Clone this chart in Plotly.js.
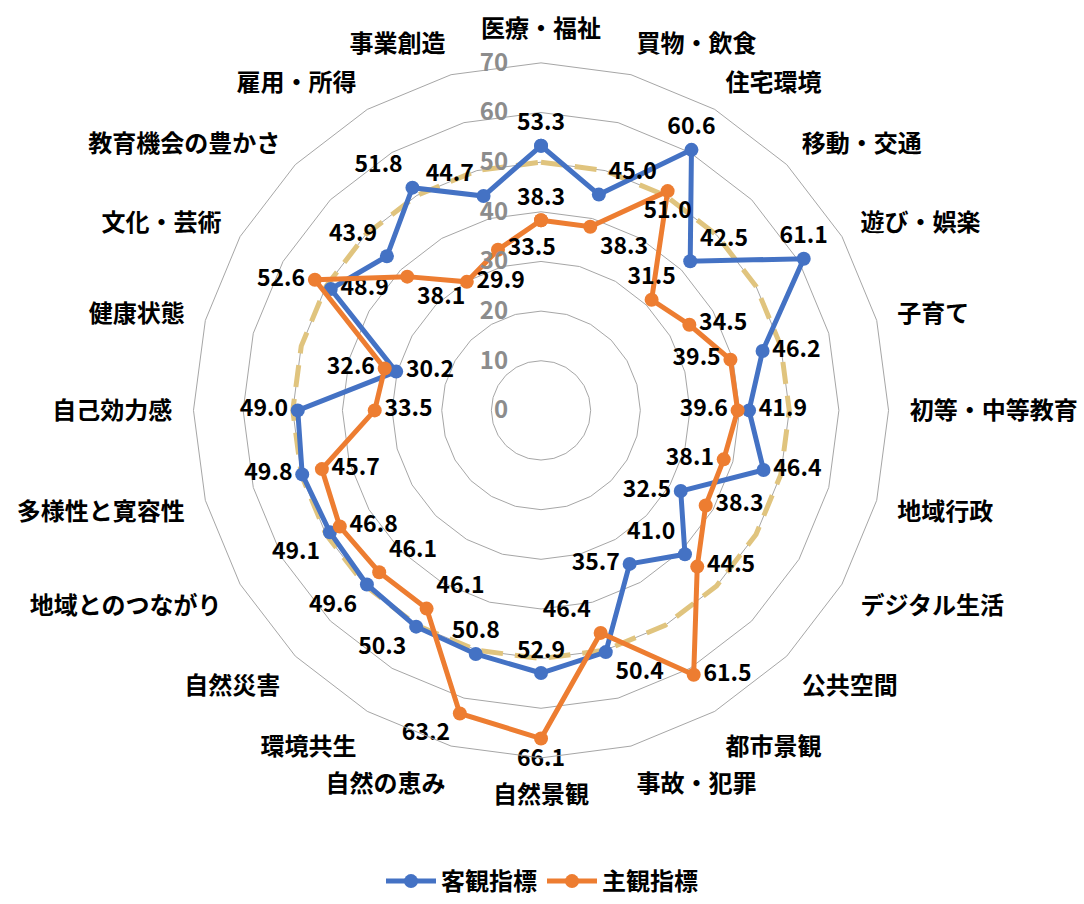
<!DOCTYPE html>
<html>
<head>
<meta charset="utf-8">
<script src="https://cdn.plot.ly/plotly-3.0.1.min.js"></script>
<style>
  html, body { margin: 0; padding: 0; background: #fff; }
  #chart { width: 1084px; height: 904px; }
</style>
</head>
<body>
<div id="chart"></div>
<script>
// categories, clockwise from the top
const categories = [
  "医療・福祉", "買物・飲食", "住宅環境", "移動・交通", "遊び・娯楽", "子育て",
  "初等・中等教育", "地域行政", "デジタル生活", "公共空間", "都市景観", "事故・犯罪",
  "自然景観", "自然の恵み", "環境共生", "自然災害", "地域とのつながり", "多様性と寛容性",
  "自己効力感", "健康状態", "文化・芸術", "教育機会の豊かさ", "雇用・所得", "事業創造"
];

// 客観指標
const objective = [
  53.3, 45.0, 60.6, 42.5, 61.1, 46.2,
  41.9, 46.4, 32.5, 41.0, 35.7, 50.4,
  52.9, 50.8, 50.3, 49.6, 49.1, 49.8,
  49.0, 30.2, 48.9, 43.9, 51.8, 44.7
];

// 主観指標
const subjective = [
  38.3, 38.3, 51.0, 31.5, 34.5, 39.5,
  39.6, 38.1, 38.3, 44.5, 61.5, 46.4,
  66.1, 63.2, 46.1, 46.1, 46.8, 45.7,
  33.5, 32.6, 52.6, 38.1, 29.9, 33.5
];

// reference level (dashed ring)
const baseline = categories.map(() => 50);

const radialTicks = [0, 10, 20, 30, 40, 50, 60, 70];

// where each data label sits around its point
const objPos = [
  "top center", "top right", "top center", "top right", "top center", "middle right",
  "middle right", "middle right", "middle left", "top left", "middle left", "bottom right",
  "top center", "top center", "bottom left", "bottom left", "bottom left", "middle left",
  "middle left", "middle right", "middle right", "top left", "top left", "top left"
];
const subPos = [
  "top center", "bottom right", "bottom center", "top center", "middle right", "middle left",
  "middle left", "middle left", "middle right", "middle right", "middle right", "top left",
  "bottom center", "bottom left", "top right", "top right", "middle right", "middle right",
  "middle right", "middle left", "middle left", "bottom right", "middle right", "middle right"
];

const FONT = "'Noto Sans CJK JP', 'Noto Sans', sans-serif";

function closeLoop(arr, extra) {
  return arr.concat([extra === undefined ? arr[0] : extra]);
}

function makeSeries(name, values, color, positions) {
  return {
    type: "scatterpolar",
    name: name,
    r: closeLoop(values),
    theta: closeLoop(categories),
    mode: "lines+markers+text",
    text: closeLoop(values.map(v => v.toFixed(1)), ""),
    textposition: closeLoop(positions, "middle center"),
    textfont: { family: FONT, size: 23, color: "#000", weight: "bold" },
    cliponaxis: false,
    line: { color: color, width: 5 },
    marker: { color: color, size: 14 },
    hoverinfo: "name+theta+r"
  };
}

let ringTrace = {
  type: "scatterpolar",
  r: closeLoop(baseline),
  theta: closeLoop(categories),
  mode: "lines",
  showlegend: false,
  hoverinfo: "skip",
  line: { color: "#E0C47E", width: 5, dash: "22px,12px" }
};

let chartData = [
  ringTrace,
  makeSeries("客観指標", objective, "#4472C4", objPos),
  makeSeries("主観指標", subjective, "#ED7D31", subPos)
];

let layout = {
  width: 1084,
  height: 904,
  margin: { l: 0, r: 0, t: 0, b: 0 },
  paper_bgcolor: "#fff",
  font: { family: FONT, color: "#000" },
  showlegend: true,
  legend: {
    orientation: "h",
    x: 0.5, xanchor: "center",
    y: 0.018, yanchor: "middle",
    font: { family: FONT, size: 24, weight: "bold", color: "#000" },
    itemwidth: 50
  },
  polar: {
    domain: { x: [0.1762, 0.8220], y: [0.156, 0.930] },
    bgcolor: "#fff",
    gridshape: "linear",
    radialaxis: {
      range: [0, 70],
      tickvals: radialTicks,
      angle: 90,
      side: "counterclockwise",
      tickangle: 90,
      showline: false,
      ticks: "outside",
      ticklen: 24,
      tickcolor: "rgba(0,0,0,0)",
      gridcolor: "#A6A6A6",
      gridwidth: 1,
      tickfont: { family: FONT, size: 24, color: "#8C8C8C", weight: "bold" }
    },
    angularaxis: {
      direction: "clockwise",
      rotation: 90,
      showgrid: false,
      showline: true,
      linecolor: "#A6A6A6",
      linewidth: 1,
      ticks: "outside",
      ticklen: 16,
      tickcolor: "rgba(0,0,0,0)",
      tickfont: { family: FONT, size: 24, color: "#000", weight: "bold" }
    }
  }
};

Plotly.newPlot("chart", chartData, layout, { displayModeBar: false });
</script>
</body>
</html>
